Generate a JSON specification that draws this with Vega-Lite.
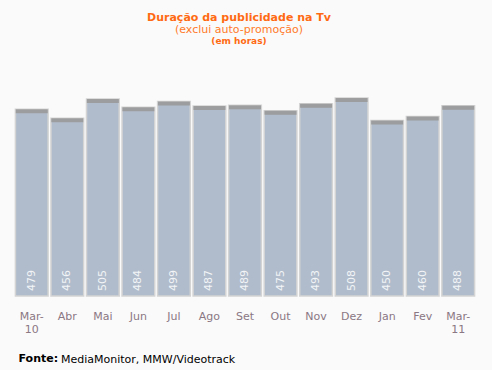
{
  "$schema": "https://vega.github.io/schema/vega-lite/v6.json",
  "background": "#fafafa",
  "padding": {"left": 14, "right": 16, "top": 12, "bottom": 18},
  "config": {
    "view": {"stroke": null},
    "font": "DejaVu Sans"
  },
  "title": {
    "text": "Duração da publicidade na Tv",
    "subtitle": "(exclui auto-promoção)",
    "color": "#ff6a13",
    "subtitleColor": "#ff7a2a",
    "fontSize": 11,
    "fontWeight": "bold",
    "subtitleFontSize": 11,
    "font": "DejaVu Sans",
    "subtitleFont": "DejaVu Sans",
    "subtitlePadding": 1,
    "anchor": "middle",
    "dx": -6,
    "offset": 2
  },
  "data": {
    "values": [
      {"mes": "Mar-10", "horas": 479},
      {"mes": "Abr", "horas": 456},
      {"mes": "Mai", "horas": 505},
      {"mes": "Jun", "horas": 484},
      {"mes": "Jul", "horas": 499},
      {"mes": "Ago", "horas": 487},
      {"mes": "Set", "horas": 489},
      {"mes": "Out", "horas": 475},
      {"mes": "Nov", "horas": 493},
      {"mes": "Dez", "horas": 508},
      {"mes": "Jan", "horas": 450},
      {"mes": "Fev", "horas": 460},
      {"mes": "Mar-11", "horas": 488}
    ]
  },
  "vconcat": [
    {
      "title": {
        "text": "(em horas)",
        "fontSize": 9,
        "fontWeight": "bold",
        "color": "#ff6a13",
        "anchor": "middle",
        "dx": -6,
        "offset": 16
      },
      "vconcat": [
        {
          "width": 462,
          "height": 234,
          "title": {
            "text": "MediaMonitor, MMW/Videotrack",
            "orient": "bottom",
            "anchor": "start",
            "fontSize": 11,
            "fontWeight": "normal",
            "color": "#000000",
            "dx": 47,
            "offset": -9
          },
          "encoding": {
            "x": {
              "field": "mes",
              "type": "nominal",
              "sort": null,
              "scale": {"paddingInner": 0.08, "paddingOuter": 0.04},
              "axis": {
                "title": "Fonte:",
                "titleFontWeight": "bold",
                "titleFontSize": 11,
                "titleColor": "#000000",
                "titleAnchor": "start",
                "titleAlign": "left",
                "titleX": 4,
                "titleY": 65,
                "titleBaseline": "alphabetic",
                "labelAngle": 0,
                "labelColor": "#8a7783",
                "labelFontSize": 11,
                "labelPadding": 14,
                "labelLineHeight": 13,
                "labelExpr": "indexof(datum.label, '-') > 0 ? [slice(datum.label, 0, 4), slice(datum.label, 4)] : datum.label",
                "ticks": false,
                "domain": false,
                "grid": false
              }
            },
            "y": {"field": "horas", "type": "quantitative", "scale": {"domain": [0, 600]}, "axis": null}
          },
          "layer": [
            {
              "mark": {"type": "bar", "color": "#b0bccb", "stroke": "#d4d4d4", "strokeWidth": 1.5}
            },
            {
              "mark": {"type": "tick", "color": "#999999", "thickness": 4, "size": 32, "yOffset": 2, "opacity": 0.9}
            },
            {
              "mark": {"type": "text", "angle": 270, "align": "left", "baseline": "middle", "dx": 5, "color": "#f2f4f7", "fontSize": 11},
              "encoding": {
                "y": {"datum": 0, "type": "quantitative"},
                "text": {"field": "horas", "type": "quantitative"}
              }
            }
          ]
        }
      ]
    }
  ]
}
